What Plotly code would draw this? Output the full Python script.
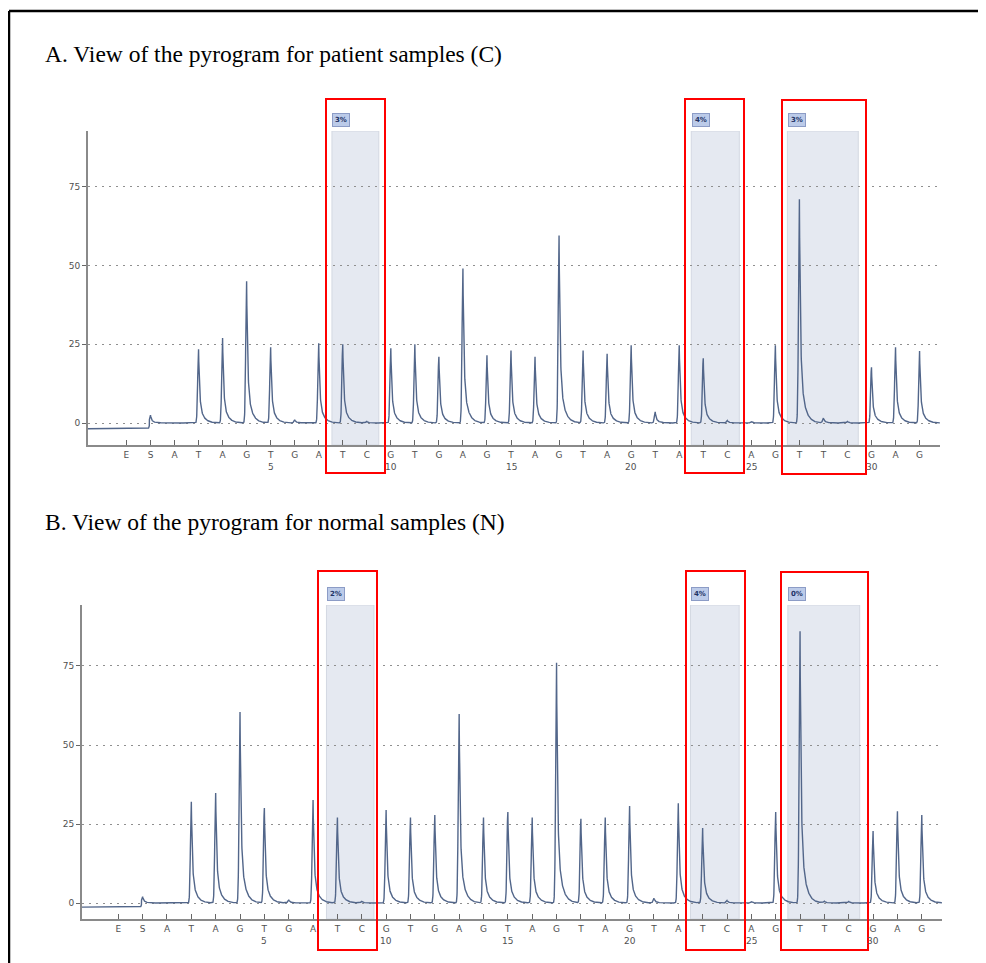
import numpy as np
import plotly.graph_objects as go

# ---------------- data ----------------
dispensation = ["E", "S", "A", "T", "A", "G", "T", "G", "A", "T", "C", "G", "T", "G", "A", "G", "T",
                "A", "G", "T", "A", "G", "T", "A", "T", "C", "A", "G", "T", "T", "C", "G", "A", "G"]
number_labels = [5, 10, 15, 20, 25, 30]   # dispensation numbers (E and S are not counted)

heights_patient = [0, 2.5, 0, 23.4, 27, 45, 24, 1, 25.3, 25, 0.5, 23.7, 25, 21, 49, 21.5, 23,
                   21, 59.5, 23, 22, 24.7, 3.5, 24.7, 20.5, 0.8, 0.5, 24.7, 71, 1.5, 0.5, 17.7, 24, 22.8]
heights_normal = [0, 2, 0, 32, 34.8, 60.4, 30, 1, 32.6, 27, 0.5, 29.4, 27, 27.8, 59.8, 27, 28.8,
                  27, 76, 26.6, 27, 30.7, 1.5, 31.6, 23.7, 0.8, 0.5, 28.8, 86, 0.5, 0.5, 22.8, 29, 27.8]
pre_baseline_patient = -1.8
pre_baseline_normal = -1.3

region_start = [8.55, 23.5, 27.5]
region_end = [10.5, 25.5, 30.45]
badges_patient = ["3%", "4%", "3%"]
badges_normal = ["2%", "4%", "0%"]

titles = ["A. View of the pyrogram for patient samples (C)",
          "B. View of the pyrogram for normal samples (N)"]

# ---------------- layout constants (pixels, page coordinates) ----------------
OFF = 8                      # page body margin
W, H = 986 - OFF, 963 - OFF
def fx(p): return (p - OFF) / W
def fy(p): return 1 - (p - OFF) / H

panels = [
    dict(heights=heights_patient, pre=pre_baseline_patient, badges=badges_patient,
         xpx=(88, 940), ypx=(131, 445), xr=[-1.60, 33.85], yr=[-6.98, 92.7],
         title_y=54, badge_y=120, num_y=467,
         boxes=[(326, 99, 385, 473), (685, 99, 744, 473), (782, 100, 866, 474)]),
    dict(heights=heights_normal, pre=pre_baseline_normal, badges=badges_normal,
         xpx=(82, 942), ypx=(605, 919), xr=[-1.49, 33.83], yr=[-5.06, 94.3],
         title_y=522, badge_y=594, num_y=941,
         boxes=[(318, 571, 377, 950), (686, 571, 745, 950), (781, 572, 868, 950)]),
]

LINE_COLOR = "#52668a"
AXIS_COLOR = "#8a8a8a"
TICK_FONT = dict(family="DejaVu Sans", size=9, color="#505050")

fig = go.Figure()
shapes = []
annotations = []

def peak_curve(xs, heights, pre):
    y = np.where(xs < 1 - 0.05, pre, 0.0)
    for i, h in enumerate(heights):
        if h <= 0:
            continue
        dx = xs - i
        rise = np.exp(-(dx / 0.05) ** 2)
        dpos = np.clip(dx, 0, None)
        fall = 0.7 * np.exp(-dpos / 0.04) + 0.3 * np.exp(-dpos / 0.17)
        shape = np.where(dx < 0, rise, fall)
        shape = np.where(dx < -0.3, 0, shape)
        y = y + h * shape
    return y

for k, p in enumerate(panels):
    ax = "" if k == 0 else str(k + 1)
    xs = np.arange(p["xr"][0], p["xr"][1], 0.005)
    ys = peak_curve(xs, p["heights"], p["pre"])
    fig.add_trace(go.Scatter(x=xs, y=ys, mode="lines", xaxis="x" + ax, yaxis="y" + ax,
                             line=dict(color=LINE_COLOR, width=1.4), hoverinfo="skip",
                             showlegend=False))

    xdom = [fx(p["xpx"][0]), fx(p["xpx"][1])]
    ydom = [fy(p["ypx"][1]), fy(p["ypx"][0])]
    fig.update_layout(**{
        "xaxis" + ax: dict(domain=xdom, range=p["xr"], anchor="y" + ax,
                           tickmode="array", tickvals=list(range(len(dispensation))),
                           ticktext=dispensation, ticks="inside", ticklen=5, tickwidth=1,
                           tickcolor="#666666", showline=True, linecolor=AXIS_COLOR, linewidth=1.8,
                           showgrid=False, zeroline=False, tickfont=TICK_FONT, fixedrange=True),
        "yaxis" + ax: dict(domain=ydom, range=p["yr"], anchor="x" + ax,
                           tickmode="array", tickvals=[0, 25, 50, 75],
                           ticks="outside", ticklen=4, tickcolor="#666666",
                           showline=True, linecolor=AXIS_COLOR, linewidth=1.8,
                           showgrid=True, gridcolor="#8f8f8f", griddash="2px,5px", gridwidth=1.2,
                           zeroline=False, tickfont=TICK_FONT, fixedrange=True),
    })

    # shaded analysis regions + badges
    for s, e, b in zip(region_start, region_end, p["badges"]):
        shapes.append(dict(type="rect", xref="x" + ax, yref="y" + ax, x0=s, x1=e,
                           y0=p["yr"][0], y1=p["yr"][1], fillcolor="#e5e9f1",
                           line=dict(color="#d3d8e2", width=1), layer="below"))
        annotations.append(dict(x=s + 0.02, y=fy(p["badge_y"]), xref="x" + ax, yref="paper",
                                text="<b>" + b + "</b>", showarrow=False, xanchor="left",
                                yanchor="middle",
                                font=dict(family="DejaVu Sans", size=7, color="#223366"),
                                bgcolor="#bccbe9", bordercolor="#8c9cc6", borderwidth=1, borderpad=2))

    # dispensation numbers
    for n in number_labels:
        annotations.append(dict(x=n + 1, y=fy(p["num_y"]), xref="x" + ax, yref="paper",
                                text=str(n), showarrow=False, xanchor="center", yanchor="middle",
                                font=TICK_FONT))

    # red highlight boxes
    for (x0, y0, x1, y1) in p["boxes"]:
        shapes.append(dict(type="rect", xref="paper", yref="paper", x0=fx(x0), x1=fx(x1),
                           y0=fy(y1), y1=fy(y0), line=dict(color="#ff0000", width=2),
                           fillcolor="rgba(0,0,0,0)", layer="above"))

    # panel title
    annotations.append(dict(x=fx(43), y=fy(p["title_y"]), xref="paper", yref="paper",
                            text=titles[k], showarrow=False, xanchor="left", yanchor="middle",
                            font=dict(family="Liberation Serif", size=23.5, color="#000000")))

# outer frame (top and left)
shapes.append(dict(type="line", xref="paper", yref="paper", x0=fx(9), x1=1, y0=fy(11), y1=fy(11),
                   line=dict(color="#000000", width=2.5)))
shapes.append(dict(type="line", xref="paper", yref="paper", x0=fx(9), x1=fx(9), y0=fy(11), y1=0,
                   line=dict(color="#000000", width=2.5)))

fig.update_layout(width=W, height=H, margin=dict(l=0, r=0, t=0, b=0),
                  paper_bgcolor="white", plot_bgcolor="white",
                  shapes=shapes, annotations=annotations, showlegend=False)

fig.write_html("out.html")
